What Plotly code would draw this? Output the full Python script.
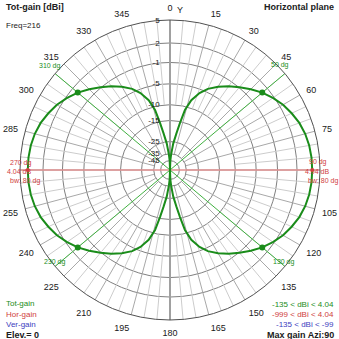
import plotly.graph_objects as go

# Total gain pattern in the horizontal plane (dBi versus azimuth, degrees)
azimuth = [0, 2, 4, 7, 10, 12, 14, 17, 21, 25, 30, 35, 40, 45, 50, 55, 60, 65, 70, 75, 80, 85, 90,
           95, 100, 105, 110, 115, 120, 125, 130, 135, 140, 145, 150, 155, 159, 163, 166, 168, 170, 173, 176, 178, 180,
           182, 184, 187, 190, 192, 194, 197, 201, 205, 210, 215, 220, 225, 230, 235, 240, 245, 250, 255, 260, 265, 270,
           275, 280, 285, 290, 295, 300, 305, 310, 315, 320, 325, 330, 335, 339, 343, 346, 348, 350, 353, 356, 358, 360]
tot_gain = [-135, -45, -36, -26, -20, -15.5, -11, -8, -5.8, -4.3, -3.0, -1.9, -0.9, 0.1, 1.04, 1.8, 2.5, 3.0, 3.45, 3.75, 3.93, 4.02, 4.04,
            4.02, 3.93, 3.75, 3.45, 3.0, 2.5, 1.8, 1.04, 0.1, -0.9, -1.9, -3.0, -4.3, -5.8, -8, -11, -15.5, -20, -26, -36, -45, -135,
            -45, -36, -26, -20, -15.5, -11, -8, -5.8, -4.3, -3.0, -1.9, -0.9, 0.1, 1.04, 1.8, 2.5, 3.0, 3.45, 3.75, 3.93, 4.02, 4.04,
            4.02, 3.93, 3.75, 3.45, 3.0, 2.5, 1.8, 1.04, 0.1, -0.9, -1.9, -3.0, -4.3, -5.8, -8, -11, -15.5, -20, -26, -36, -45, -135]

ring_db = [5, 2, -1, -5, -10, -15, -25, -35, -45]
ring_labels = ["5", "2", "-1", "-5", "-10", "-15", "-25", "-35", "-45"]
angle_ticks = list(range(0, 360, 15))
angle_labels = ["" if a in (90, 270) else str(a) for a in angle_ticks]
bw_angles = [50, 130, 230, 310]
bw_labels = ["50 dg", "130 dg", "230 dg", "310 dg"]
max_angles = [90, 270]
MAX_DB = 5
LOG_BASE = 0.895

GREEN = "#1a8c1a"
RED = "#d04040"
BLUE = "#4040c0"
FONT = "Liberation Sans, Arial, sans-serif"


def logr(db):
    """Log radial scale: LOG_BASE ** (dB below the outer ring / 2)."""
    return LOG_BASE ** ((MAX_DB - db) / 2.0)


def px(x, y):
    """Pixel position -> paper coordinates (plot area 20..320 in both axes)."""
    return (x - 20) / 300.0, (320 - y) / 300.0


fig = go.Figure()

# spokes: every 15 deg reach further in than the 5 deg ones
spk_r, spk_t, maj_r, maj_t = [], [], [], []
for a in range(0, 360, 5):
    if a % 15 == 0:
        maj_r += [logr(-35), 1, None]
        maj_t += [a, a, None]
    else:
        spk_r += [logr(-10), 1, None]
        spk_t += [a, a, None]
fig.add_trace(go.Scatterpolar(r=spk_r, theta=spk_t, mode="lines",
                              line=dict(color="#cccccc", width=1), hoverinfo="skip"))
fig.add_trace(go.Scatterpolar(r=maj_r, theta=maj_t, mode="lines",
                              line=dict(color="#a8a8a8", width=1), hoverinfo="skip"))

# main axes through the centre
fig.add_trace(go.Scatterpolar(r=[1, 0, 1], theta=[90, 90, 270], mode="lines",
                              line=dict(color="#e09090", width=1.5), hoverinfo="skip"))
fig.add_trace(go.Scatterpolar(r=[1, 0, 1], theta=[0, 0, 180], mode="lines",
                              line=dict(color="#a0a0a0", width=2), hoverinfo="skip"))

# half-power beamwidth lines
bw_r, bw_t = [], []
for a in bw_angles:
    bw_r += [0, 1, None]
    bw_t += [a, a, None]
fig.add_trace(go.Scatterpolar(r=bw_r, theta=bw_t, mode="lines",
                              line=dict(color="#40b040", width=1), hoverinfo="skip"))

# pattern
fig.add_trace(go.Scatterpolar(r=[logr(g) for g in tot_gain], theta=azimuth, mode="lines",
                              line=dict(color=GREEN, width=2), hoverinfo="skip"))

bw_gain = [tot_gain[azimuth.index(a)] for a in bw_angles]
fig.add_trace(go.Scatterpolar(r=[logr(g) for g in bw_gain], theta=bw_angles, mode="markers",
                              marker=dict(color=GREEN, size=6), hoverinfo="skip"))
max_gain = [tot_gain[azimuth.index(a)] for a in max_angles]
fig.add_trace(go.Scatterpolar(r=[logr(g) for g in max_gain], theta=max_angles, mode="markers",
                              marker=dict(color=RED, size=4), hoverinfo="skip"))

fig.update_layout(
    width=339, height=339,
    margin=dict(l=20, r=19, t=20, b=19),
    paper_bgcolor="white", plot_bgcolor="white",
    showlegend=False,
    font=dict(family=FONT, size=9, color="#202020"),
    polar=dict(
        bgcolor="white",
        angularaxis=dict(rotation=90, direction="clockwise",
                         tickmode="array", tickvals=angle_ticks, ticktext=angle_labels,
                         showgrid=False, showline=True, linecolor="#505050", linewidth=1,
                         ticks="outside", ticklen=5, tickcolor="rgba(0,0,0,0)",
                         tickfont=dict(size=9, color="#202020")),
        radialaxis=dict(range=[0, 1], tickmode="array",
                        tickvals=[logr(d) for d in ring_db], ticktext=ring_labels,
                        showline=False, angle=90, side="counterclockwise", tickangle=90,
                        ticks="outside", ticklen=7, tickcolor="rgba(0,0,0,0)",
                        gridcolor="#808080", gridwidth=1,
                        tickfont=dict(size=8, color="#202020")),
    ),
)

ann = []


def text(x, y, s, color="#202020", size=9, bold=False, xanchor="left"):
    xp, yp = px(x, y)
    ann.append(dict(x=xp, y=yp, xref="paper", yref="paper", text=f"<b>{s}</b>" if bold else s,
                    showarrow=False, xanchor=xanchor, yanchor="middle",
                    font=dict(family=FONT, size=size, color=color)))


text(4, 7, "Tot-gain [dBi]", bold=True)
text(4, 25, "Freq=216", size=8)
text(336, 7, "Horizontal plane", bold=True, xanchor="right")
text(175, 10, "Y", size=9)

text(8, 163, "270 dg", RED, 7)
text(5, 171, "4.04 dB", RED, 7)
text(8, 181, "bw: 80 dg", RED, 7)
text(307, 162, "90 dg", RED, 7)
text(303, 171, "4.04 dB", RED, 7)
text(306, 181, "bw: 80 dg", RED, 7)

for (x, y), s in zip([(280, 65), (284, 262), (55, 262), (50, 66)], bw_labels):
    text(x, y, s, GREEN, 7, xanchor="center")

text(4, 303, "Tot-gain", GREEN, 8)
text(4, 314, "Hor-gain", RED, 8)
text(4, 324, "Ver-gain", BLUE, 8)
text(4, 335, "Elev.= 0", bold=True)
text(336, 304, "-135 &lt; dBi &lt; 4.04", GREEN, 8, xanchor="right")
text(336, 314, "-999 &lt; dBi &lt; 4.04", RED, 8, xanchor="right")
text(336, 324, "-135 &lt; dBi &lt; -99", BLUE, 8, xanchor="right")
text(336, 335, "Max gain Azi:90", bold=True, xanchor="right")

fig.update_layout(annotations=ann)
fig.write_html("out.html")
